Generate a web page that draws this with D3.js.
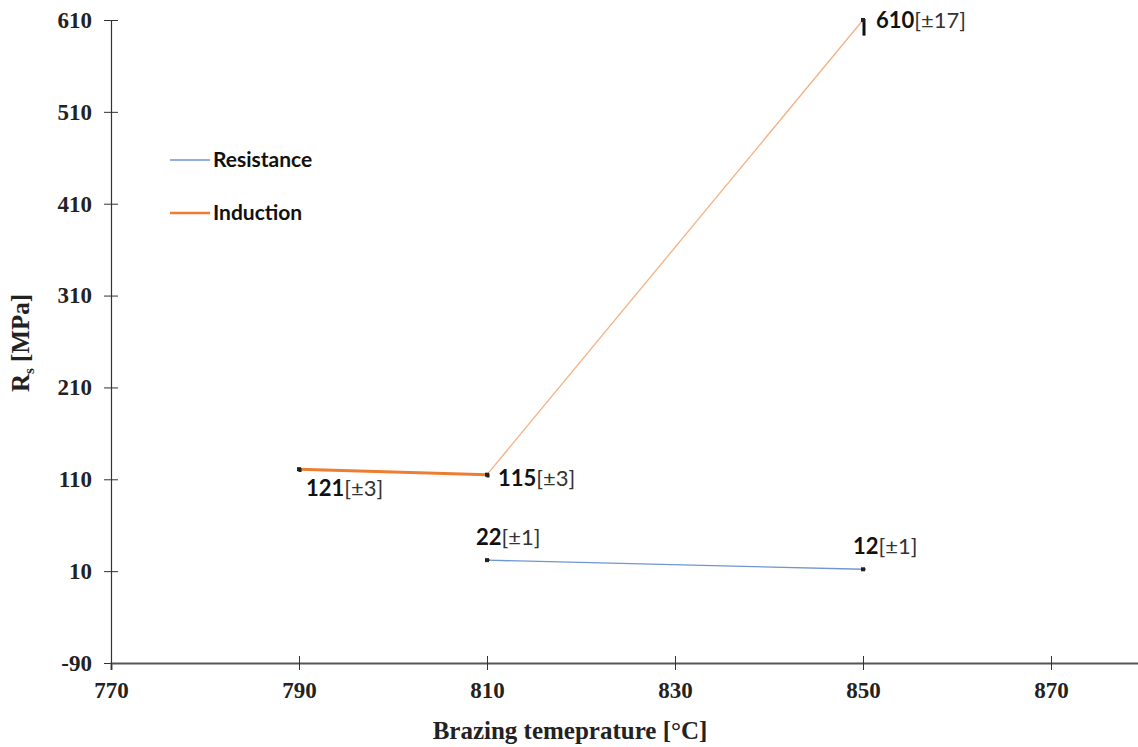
<!DOCTYPE html>
<meta charset="utf-8">
<body style="margin:0;background:#fff">
<script src="https://d3js.org/d3.v7.min.js" charset="utf-8"></script>
<style type="text/css">
  .title {
    font-family: "Liberation Serif", serif;
    font-weight: bold;
    font-size: 25px;
    fill: #222;
  }
  .label, .legend {
    font-family: Lato, "Open Sans", sans-serif;
    fill: #111;
  }
</style>
<script>
var width = 1138;
var height = 747;

// data
var xTicks = [770, 790, 810, 830, 850, 870];
var yTicks = [-90, 10, 110, 210, 310, 410, 510, 610];

var inductionTemp = [790, 810, 850];
var inductionRs = [121, 115, 610];
var inductionErr = [3, 3, 17];

var resistanceTemp = [810, 850];
var resistanceRs = [22, 12];
var resistanceErr = [1, 1];

var svg = d3.select("body")
            .append("svg")
            .attr("width", width)
            .attr("height", height);

var x = d3.scaleLinear().domain([770, 880]).range([111, 1145]);
var y = d3.scaleLinear().domain([-90, 610]).range([663, 20]);

function styleTicks(g) {
  g.attr("font-size", 23).attr("font-family", "'Liberation Serif', serif");
  g.selectAll(".tick text")
   .attr("font-weight", "bold")
   .attr("fill", "#222");
}

// y axis
var yAxis = d3.axisLeft(y).tickValues(yTicks).tickSize(7).tickPadding(12)
              .tickFormat(function(d) { return String(d); });
var gy = svg.append("g")
    .attr("transform", "translate(" + x(770) + ",0)")
    .call(yAxis);
gy.selectAll(".tick line").attr("x2", -7).attr("x1", 7).attr("stroke", "#333");
gy.select(".domain").attr("stroke", "#333").attr("stroke-width", 1.2);
gy.selectAll(".tick text").attr("x", -19);
styleTicks(gy);

// x axis
var xAxis = d3.axisBottom(x).tickValues(xTicks).tickSize(7).tickPadding(12)
              .tickFormat(function(d) { return String(d); });
var gx = svg.append("g")
    .attr("transform", "translate(0," + y(-90) + ")")
    .call(xAxis);
gx.selectAll(".tick line").attr("y1", -7).attr("y2", 7).attr("stroke", "#333");
gx.select(".domain").attr("stroke", "#555").attr("stroke-width", 2);
styleTicks(gx);

// axis titles
svg.append("text")
   .attr("class", "title")
   .attr("x", 570).attr("y", 739)
   .attr("text-anchor", "middle")
   .text("Brazing temeprature [°C]");

var yt = svg.append("text")
   .attr("class", "title")
   .attr("transform", "translate(29,343) rotate(-90)")
   .attr("text-anchor", "middle");
yt.append("tspan").text("R");
yt.append("tspan").attr("dy", 5).attr("font-size", 15).text("s");
yt.append("tspan").attr("dy", -5).text(" [MPa]");

var line = d3.line()
  .x(function(d) { return x(d[0]); })
  .y(function(d) { return y(d[1]); });

var ind = inductionTemp.map(function(t, i) { return [t, inductionRs[i], inductionErr[i]]; });
var res = resistanceTemp.map(function(t, i) { return [t, resistanceRs[i], resistanceErr[i]]; });

// induction: thick first segment, thin light second segment
svg.append("path")
   .attr("d", line(ind.slice(1)))
   .attr("fill", "none")
   .attr("stroke", "#f4b183")
   .attr("stroke-width", 1.3);
svg.append("path")
   .attr("d", line(ind.slice(0, 2)))
   .attr("fill", "none")
   .attr("stroke", "#ed7d31")
   .attr("stroke-width", 3);

svg.append("path")
   .attr("d", line(res))
   .attr("fill", "none")
   .attr("stroke", "#6f96d1")
   .attr("stroke-width", 1.4);

// error bars (lower half visible)
svg.selectAll(".err")
   .data(ind.concat(res))
   .enter()
   .append("line")
   .attr("x1", function(d) { return x(d[0]) + 1; })
   .attr("x2", function(d) { return x(d[0]) + 1; })
   .attr("y1", function(d) { return y(d[1]) - 1; })
   .attr("y2", function(d) { return y(d[1] - d[2]); })
   .attr("stroke", "#111")
   .attr("stroke-width", 3);

// point markers
svg.selectAll(".pt")
   .data(ind.concat(res))
   .enter()
   .append("rect")
   .attr("x", function(d) { return x(d[0]) - 2; })
   .attr("y", function(d) { return y(d[1]) - 2; })
   .attr("width", 4)
   .attr("height", 4)
   .attr("fill", "#222");

// value labels
var labelOffsets = [[7, 27], [11, 11], [13, 8], [-11, -15], [-10, -15]];
var labelData = ind.concat(res);
labelData.forEach(function(d, i) {
  var t = svg.append("text")
     .attr("class", "label")
     .attr("x", x(d[0]) + labelOffsets[i][0])
     .attr("y", y(d[1]) + labelOffsets[i][1])
     .attr("font-size", 22);
  t.append("tspan").attr("font-weight", "bold").text(d[1]);
  t.append("tspan").attr("fill", "#333").text("[±" + d[2] + "]");
});

// legend
var legend = [["Resistance", "#6f96d1", 1.4, 160], ["Induction", "#ed7d31", 2.5, 213]];
legend.forEach(function(l) {
  svg.append("line")
     .attr("x1", 170).attr("x2", 210)
     .attr("y1", l[3]).attr("y2", l[3])
     .attr("stroke", l[1]).attr("stroke-width", l[2]);
  svg.append("text")
     .attr("class", "legend")
     .attr("x", 213).attr("y", l[3] + 7)
     .attr("font-size", 21)
     .attr("font-weight", "bold")
     .text(l[0]);
});
</script>
</body>
</html>
